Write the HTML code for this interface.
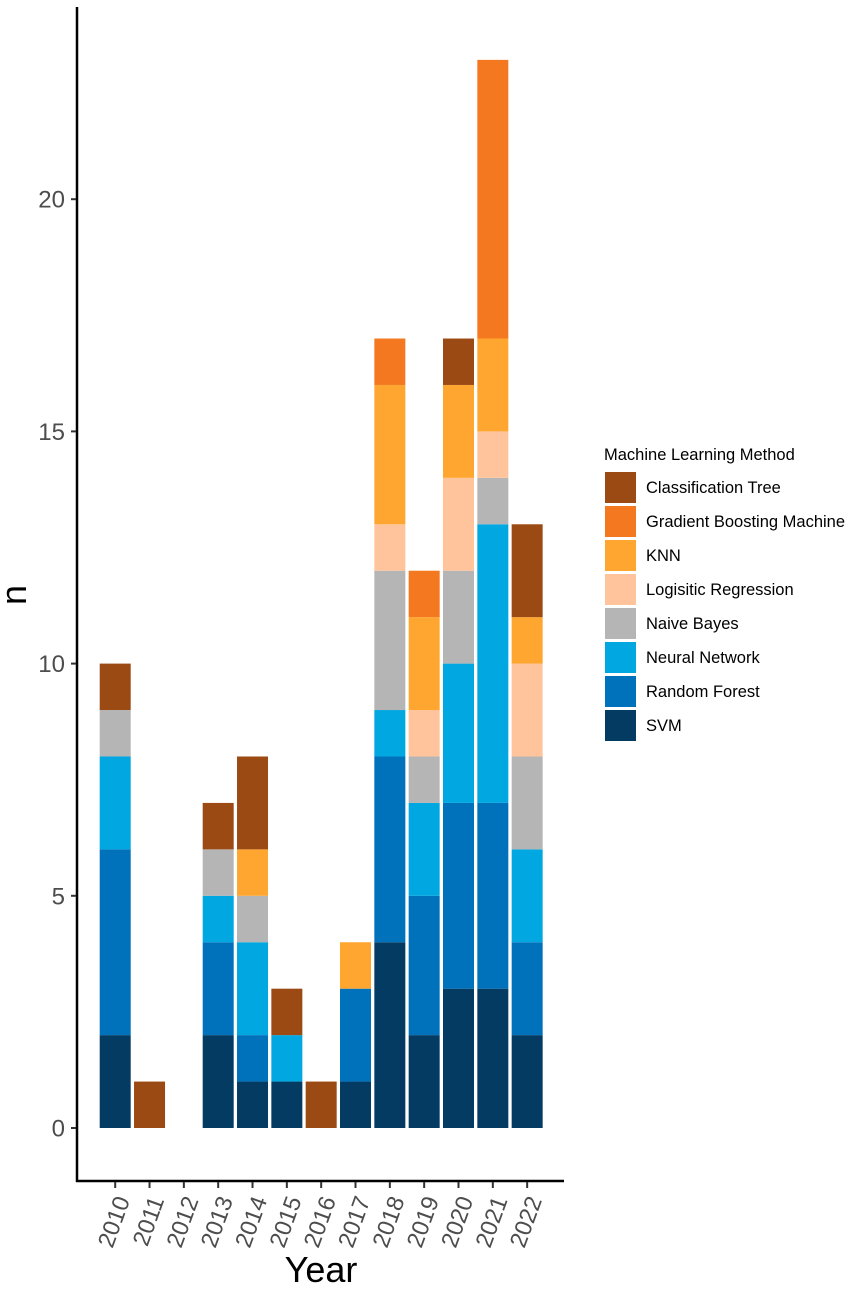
<!DOCTYPE html>
<html>
<head>
<meta charset="utf-8">
<title>Machine Learning Method by Year</title>
<style>
html,body{margin:0;padding:0;background:#fff;width:851px;height:1289px;overflow:hidden}
svg{display:block}
text{font-family:"Liberation Sans",Arial,sans-serif}
</style>
</head>
<body>
<svg id="chart" width="851" height="1289" viewBox="0 0 851 1289" xmlns="http://www.w3.org/2000/svg"></svg>
<script>
const years = [2010,2011,2012,2013,2014,2015,2016,2017,2018,2019,2020,2021,2022];
const methods = ["Classification Tree","Gradient Boosting Machine","KNN","Logisitic Regression","Naive Bayes","Neural Network","Random Forest","SVM"];
const methodColors = ["#9C4A14","#F3781F","#FFA630","#FFC49B","#B5B5B5","#00A7E1","#0071BB","#033B62"];
const svmValues = [2,0,0,2,1,1,0,1,4,2,3,3,2];
const randomForestValues = [4,0,0,2,1,0,0,2,4,3,4,4,2];
const neuralNetworkValues = [2,0,0,1,2,1,0,0,1,2,3,6,2];
const naiveBayesValues = [1,0,0,1,1,0,0,0,3,1,2,1,2];
const logisticValues = [0,0,0,0,0,0,0,0,1,1,2,1,2];
const knnValues = [0,0,0,0,1,0,0,1,3,2,2,2,1];
const gbmValues = [0,0,0,0,0,0,0,0,1,1,0,6,0];
const treeValues = [1,1,0,1,2,1,1,0,0,0,1,0,2];
const yTicks = [0,5,10,15,20];

const stackOrder = [
  {method:7, values:svmValues},
  {method:6, values:randomForestValues},
  {method:5, values:neuralNetworkValues},
  {method:4, values:naiveBayesValues},
  {method:3, values:logisticValues},
  {method:2, values:knnValues},
  {method:1, values:gbmValues},
  {method:0, values:treeValues}
];

const NS = "http://www.w3.org/2000/svg";
const svg = document.getElementById("chart");
function xScale(i){ return 115.2 + i * 34.33; }
function yScale(v){ return 1128 - v * 46.44; }
const barWidth = 31;

function make(tag, attrs, text){
  const el = document.createElementNS(NS, tag);
  for (const k in attrs) el.setAttribute(k, attrs[k]);
  if (text !== undefined) el.textContent = text;
  svg.appendChild(el);
  return el;
}

// Bars
years.forEach(function(year, i){
  let base = 0;
  stackOrder.forEach(function(s){
    const v = s.values[i];
    if (v > 0) {
      const r = make("rect", {x:xScale(i)-barWidth/2, y:yScale(base+v), width:barWidth, height:yScale(base)-yScale(base+v), fill:methodColors[s.method]});
      
      
    }
    base += v;
  });
});

// Axis lines
const yAxis = make("line", {x1:77, y1:7, x2:77, y2:1182, stroke:"#000", "stroke-width":2.5});


const xAxis = make("line", {x1:76, y1:1181, x2:564, y2:1181, stroke:"#000", "stroke-width":2.5});



// Y ticks
yTicks.forEach(function(t){
  const tk = make("line", {x1:71, y1:yScale(t), x2:76, y2:yScale(t), stroke:"#333", "stroke-width":2});
  
  
  const lb = make("text", {x:65, y:yScale(t)+8.5, "text-anchor":"end", "font-size":24, fill:"#4D4D4D"}, String(t));
  
  
});

// X ticks
years.forEach(function(year, i){
  const x = xScale(i);
  const tk = make("line", {x1:x, y1:1182, x2:x, y2:1188, stroke:"#333", "stroke-width":2});
  
  
  const lb = make("text", {transform:"translate(" + (x+15) + ",1200) rotate(-70)", "text-anchor":"end", "font-size":23.5, fill:"#4D4D4D"}, String(year));
  
  
});

// Axis titles
const xTitle = make("text", {x:321, y:1282, "text-anchor":"middle", "font-size":36, fill:"#000"}, "Year");


const yTitle = make("text", {transform:"translate(26,595) rotate(-90)", "text-anchor":"middle", "font-size":36, fill:"#000"}, "n");



// Legend
const legendTitle = make("text", {x:604, y:460, "font-size":16.5, fill:"#000"}, "Machine Learning Method");


methods.forEach(function(m, i){
  const y = 472 + i * 34;
  const sw = make("rect", {x:605, y:y, width:31, height:31, fill:methodColors[i]});
  
  
  const lb = make("text", {x:646, y:y+21, "font-size":16.5, fill:"#000"}, m);
  
  
});
</script>
</body>
</html>
